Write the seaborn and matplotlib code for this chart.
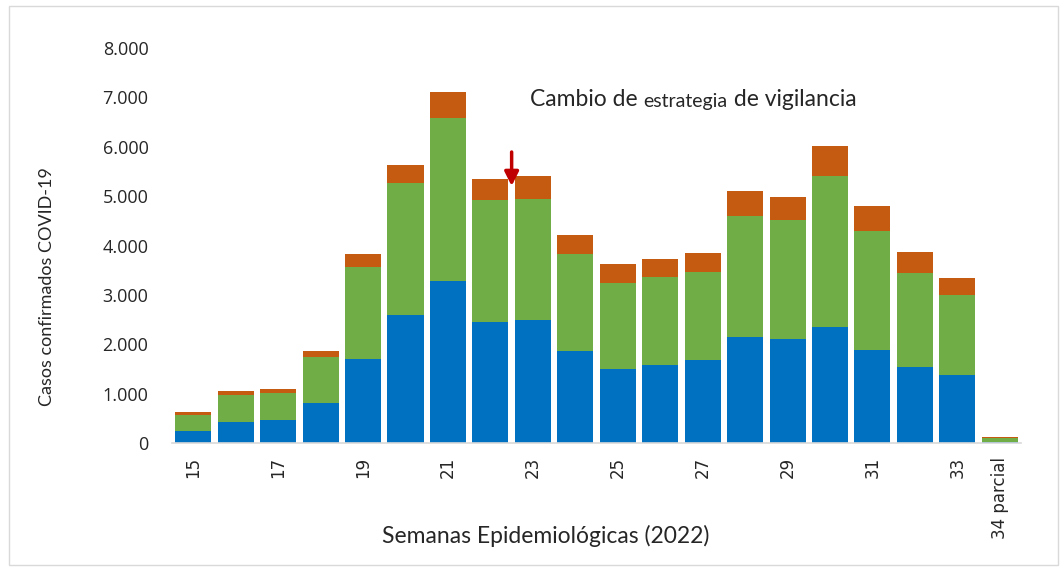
import pandas as pd
import matplotlib.pyplot as plt
import seaborn as sns
from matplotlib.patches import Rectangle
from matplotlib.ticker import FuncFormatter

# Datos
semanas = ["15", "16", "17", "18", "19", "20", "21", "22", "23", "24",
           "25", "26", "27", "28", "29", "30", "31", "32", "33", "34 parcial"]
azul = [243, 431, 459, 816, 1707, 2591, 3279, 2443, 2490, 1869,
        1491, 1579, 1680, 2146, 2105, 2342, 1883, 1545, 1370, 26]
verde = [324, 541, 553, 925, 1856, 2678, 3294, 2476, 2443, 1963,
         1742, 1775, 1788, 2449, 2403, 3063, 2408, 1890, 1626, 69]
naranja = [54, 74, 81, 121, 257, 365, 546, 431, 478, 372,
           384, 371, 371, 500, 465, 613, 507, 425, 338, 20]
etiquetas_x = ["15", "17", "19", "21", "23", "25", "27", "29", "31", "33", "34 parcial"]
pos_x = [0, 2, 4, 6, 8, 10, 12, 14, 16, 18, 19]

df = pd.DataFrame({"semana": semanas, "azul": azul, "verde": verde, "naranja": naranja})
df["nivel2"] = df["azul"] + df["verde"]
df["nivel3"] = df["nivel2"] + df["naranja"]

sns.set_theme(style="white")
plt.rcParams['font.family'] = ['Open Sans', 'DejaVu Sans']

fig = plt.figure(figsize=(10.64, 5.68), dpi=100)
ax = fig.add_axes([0.1617, 0.22, 0.7979, 0.6955])

# barras apiladas: se dibujan los totales de arriba hacia abajo
sns.barplot(data=df, x="semana", y="nivel3", order=semanas, color="#C55A11",
            saturation=1, width=0.85, linewidth=0, ax=ax)
sns.barplot(data=df, x="semana", y="nivel2", order=semanas, color="#70AD47",
            saturation=1, width=0.85, linewidth=0, ax=ax)
sns.barplot(data=df, x="semana", y="azul", order=semanas, color="#0070C0",
            saturation=1, width=0.85, linewidth=0, ax=ax)

ax.set_xlim(-0.5, 19.5)
ax.set_ylim(0, 8000)
ax.set_yticks(range(0, 8001, 1000))
ax.yaxis.set_major_formatter(FuncFormatter(lambda v, p: f"{int(v):,}".replace(",", ".")))
ax.set_xticks(pos_x)
ax.set_xticklabels(etiquetas_x, rotation=90, fontsize=12, family=['DejaVu Sans'])
ax.tick_params(axis="y", length=0, pad=17, labelsize=13)
ax.tick_params(axis="x", length=0, pad=10)

for s in ["top", "right", "left"]:
    ax.spines[s].set_visible(False)
ax.spines["bottom"].set_color("#D9D9D9")
ax.spines["bottom"].set_linewidth(1.2)

ax.set_xlabel("")
ax.set_ylabel("")
fig.text(0.044, 0.495, "Casos confirmados COVID-19", rotation=90, ha="center", va="center",
         fontsize=13, family=['Lato', 'DejaVu Sans'])
fig.text(0.5125, 0.056, "Semanas Epidemiológicas (2022)", ha="center", va="center",
         fontsize=16.5, family=['Lato', 'DejaVu Sans'])

# texto de anotacion con tamanos mezclados
t1 = ax.text(7.93, 6820, "Cambio de ", fontsize=16.5, va="baseline", family=['Lato', 'DejaVu Sans'])
t2 = ax.annotate("estrategia", xy=(1, 0), xycoords=t1, va="bottom", ha="left",
                 fontsize=14, family=['Lato', 'DejaVu Sans'])
ax.annotate(" de vigilancia", xy=(1, 0), xycoords=t2, va="bottom", ha="left",
            fontsize=16.5, family=['Lato', 'DejaVu Sans'])

# flecha roja
ax.annotate("", xy=(7.5, 5150), xytext=(7.5, 5950),
            arrowprops=dict(arrowstyle="-|>,head_width=0.35,head_length=0.7",
                            color="#C00000", lw=2.5))

fig.patches.append(Rectangle((0.008, 0.005), 0.986, 0.985, transform=fig.transFigure,
                             fill=False, edgecolor="#D9D9D9", linewidth=1))

plt.savefig("out.png", dpi=100)
